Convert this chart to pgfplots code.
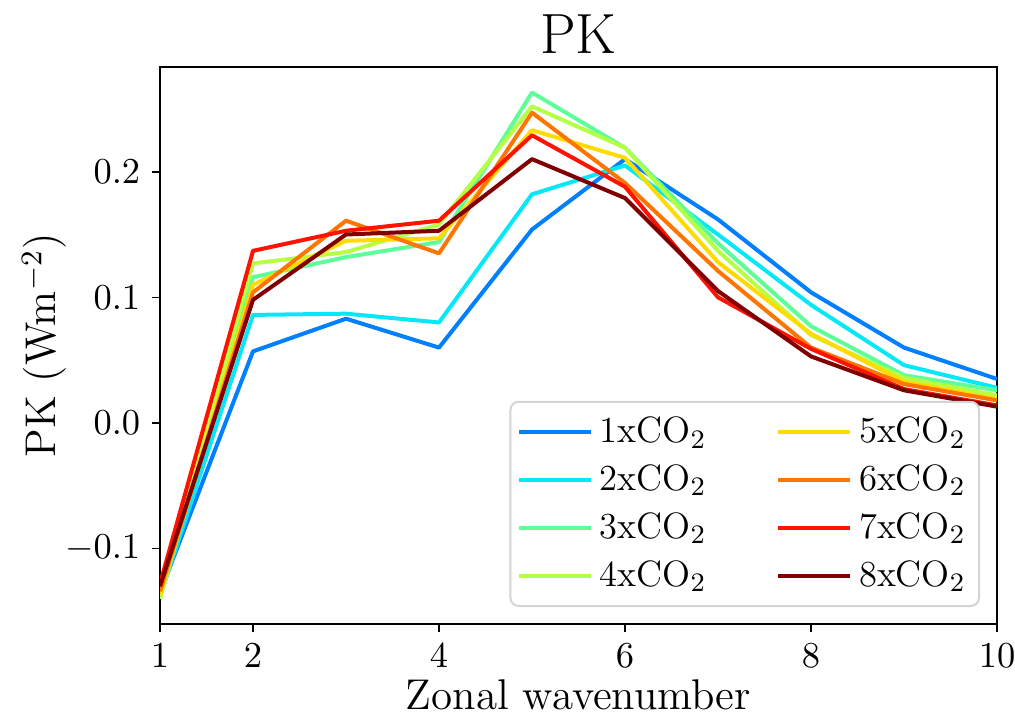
\documentclass[border=0pt]{standalone}
\usepackage{pgfplots}
\pgfplotsset{compat=1.18}
\usepackage{pgfplotstable}

\definecolor{c1}{rgb}{0.0,0.5,1.0}
\definecolor{c2}{rgb}{0.02,0.91,0.97}
\definecolor{c3}{rgb}{0.37,1.0,0.6}
\definecolor{c4}{rgb}{0.71,1.0,0.27}
\definecolor{c5}{rgb}{1.0,0.86,0.0}
\definecolor{c6}{rgb}{1.0,0.46,0.0}
\definecolor{c7}{rgb}{1.0,0.07,0.0}
\definecolor{c8}{rgb}{0.5,0.0,0.0}

\pgfplotstableread{
k   a1      a2      a3      a4      a5      a6      a7      a8
1  -0.135  -0.138  -0.136  -0.140  -0.137  -0.134  -0.128  -0.130
2   0.057   0.086   0.116   0.127   0.110   0.104   0.137   0.098
3   0.083   0.087   0.132   0.136   0.145   0.161   0.153   0.150
4   0.060   0.080   0.144   0.158   0.147   0.135   0.161   0.153
5   0.154   0.182   0.263   0.252   0.233   0.247   0.229   0.210
6   0.210   0.205   0.219   0.219   0.211   0.191   0.188   0.179
7   0.162   0.150   0.143   0.137   0.128   0.121   0.100   0.105
8   0.104   0.094   0.077   0.070   0.071   0.060   0.059   0.053
9   0.060   0.046   0.038   0.036   0.033   0.031   0.027   0.026
10  0.035   0.028   0.026   0.022   0.019   0.018   0.014   0.013
}\datatable

\begin{document}
\begin{tikzpicture}
\begin{axis}[
  scale only axis,
  width=251.1pt, height=167.1pt,
  xmin=1, xmax=10, ymin=-0.16, ymax=0.2833,
  xtick={1,2,4,6,8,10},
  ytick={-0.1,0,0.1,0.2},
  yticklabel style={/pgf/number format/.cd, fixed, fixed zerofill, precision=1},
  tick label style={font=\fontsize{10.5}{12}\selectfont},
  xtick pos=left, ytick pos=left,
  tick align=outside,
  major tick length=2.4pt,
  axis line style={line width=0.5pt},
  every tick/.style={black, line width=0.5pt},
  title={PK},
  title style={font=\fontsize{17}{20}\selectfont, yshift=-5.5pt},
  xlabel={Zonal wavenumber},
  ylabel={PK (Wm$^{-2}$)},
  label style={font=\fontsize{12.9}{15}\selectfont},
  xlabel style={yshift=3.2pt},
  ylabel style={yshift=-7.3pt},
  legend columns=2,
  legend cell align=left,
  legend image code/.code={\draw[#1, line width=1.2pt] (0pt,0pt) -- (21.6pt,0pt);},
  legend style={at={(rel axis cs:1,0)}, anchor=south east, xshift=-5.1pt, yshift=5.1pt,
    draw=black!17, line width=0.6pt, rounded corners=2.5pt,
    font=\fontsize{11}{13}\selectfont, row sep=1.1pt,
    inner xsep=2pt, inner ysep=2.5pt,
    /tikz/every even column/.append style={column sep=19pt}},
  every axis plot/.append style={line width=1.2pt, line join=round},
]
\addplot[c1, forget plot] table[x=k,y=a1]{\datatable};
\addplot[c2, forget plot] table[x=k,y=a2]{\datatable};
\addplot[c3, forget plot] table[x=k,y=a3]{\datatable};
\addplot[c4, forget plot] table[x=k,y=a4]{\datatable};
\addplot[c5, forget plot] table[x=k,y=a5]{\datatable};
\addplot[c6, forget plot] table[x=k,y=a6]{\datatable};
\addplot[c7, forget plot] table[x=k,y=a7]{\datatable};
\addplot[c8, forget plot] table[x=k,y=a8]{\datatable};
\addlegendimage{c1}\addlegendentry{1xCO$_2$}
\addlegendimage{c5}\addlegendentry{5xCO$_2$}
\addlegendimage{c2}\addlegendentry{2xCO$_2$}
\addlegendimage{c6}\addlegendentry{6xCO$_2$}
\addlegendimage{c3}\addlegendentry{3xCO$_2$}
\addlegendimage{c7}\addlegendentry{7xCO$_2$}
\addlegendimage{c4}\addlegendentry{4xCO$_2$}
\addlegendimage{c8}\addlegendentry{8xCO$_2$}
\end{axis}
\pgfresetboundingbox
\path ([xshift=-48pt,yshift=-27.3pt]current axis.south west) rectangle ([xshift=5.4pt,yshift=20.1pt]current axis.north east);
\end{tikzpicture}
\end{document}
